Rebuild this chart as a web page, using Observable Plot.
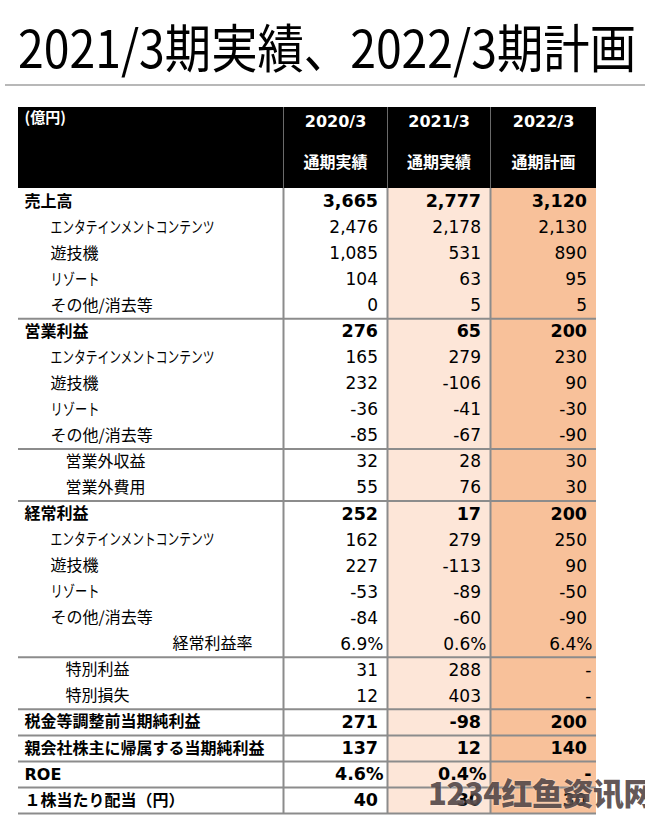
<!DOCTYPE html>
<html>
<head>
<meta charset="utf-8">
<script src="https://cdn.jsdelivr.net/npm/d3@7"></script>
<script src="https://cdn.jsdelivr.net/npm/@observablehq/plot@0.6"></script>
<style>
  html, body { margin: 0; padding: 0; background: #fff; }
  #page { position: relative; width: 645px; height: 817px; overflow: hidden; }
  #title { position: absolute; left: 18px; top: 20px; font-family: "Noto Sans CJK JP", sans-serif;
           font-size: 52px; line-height: 1; color: #000; white-space: nowrap; transform-origin: 0 0; }
  #rule { position: absolute; left: 5px; right: 0; top: 84px; height: 2px; background: #b8b8b8; }
  #chart { position: absolute; left: 0; top: 100px; }
  #wm { position: absolute; left: 428px; top: 776px; font-family: "Noto Sans CJK SC", sans-serif; font-weight: 900;
        font-size: 31px; line-height: 1; color: rgba(72, 58, 58, 0.85); white-space: nowrap; letter-spacing: -0.5px;
        text-shadow: 0 0 2px rgba(255,255,255,0.6); }
</style>
</head>
<body>
<div id="page">
  <div id="title">2021/3期実績、2022/3期計画</div>
  <div id="rule"></div>
  <div id="chart"></div>
  <div id="wm">1234红鱼资讯网</div>
</div>
<script>
// ---------- data ----------
const labels = [
  "売上高", "エンタテインメントコンテンツ", "遊技機", "リゾート", "その他/消去等",
  "営業利益", "エンタテインメントコンテンツ", "遊技機", "リゾート", "その他/消去等",
  "営業外収益", "営業外費用",
  "経常利益", "エンタテインメントコンテンツ", "遊技機", "リゾート", "その他/消去等",
  "経常利益率", "特別利益", "特別損失",
  "税金等調整前当期純利益", "親会社株主に帰属する当期純利益", "ROE", "１株当たり配当（円）"
];
// 0 = bold heading, 1 = indented, 2 = double indented, 3 = right-aligned ratio label
const levels = [0,1,1,1,1, 0,1,1,1,1, 2,2, 0,1,1,1,1, 3,2,2, 0,0,0,0];
const percentRows = [17, 22];
const fy2020 = [3665, 2476, 1085, 104, 0, 276, 165, 232, -36, -85, 32, 55, 252, 162, 227, -53, -84, 6.9, 31, 12, 271, 137, 4.6, 40];
const fy2021 = [2777, 2178, 531, 63, 5, 65, 279, -106, -41, -67, 28, 76, 17, 279, -113, -89, -60, 0.6, 288, 403, -98, 12, 0.4, 30];
const fy2022 = [3120, 2130, 890, 95, 5, 200, 230, 90, -30, -90, 30, 30, 200, 250, 90, -50, -90, 6.4, null, null, 200, 140, null, 30];
const periods = ["2020/3", "2021/3", "2022/3"];
const periodSub = ["通期実績", "通期実績", "通期計画"];
const unitLabel = "(億円)";
// rows after which a separator line is drawn
const separatorsAfter = [4, 9, 11, 17, 19, 20, 21, 22, 23];

// ---------- layout (not data) ----------
const colEdges = [0, 265, 369, 472, 578];
const colFill = ["#ffffff", "#fde6d8", "#f8c19a"];
const headerH = 81;
const nRows = labels.length;
const rowH = 625 / nRows;
const totalH = headerH + nRows * rowH;
const indentX = [6, 32, 47];
const ratioLabelX = 234;
const rowY = i => headerH + (i + 0.5) * rowH;

const series = [fy2020, fy2021, fy2022];
const fmtInt = d3.format(",");
const fmt = (v, i) => {
  if (v == null) return "-";
  if (percentRows.includes(i)) return v.toFixed(1) + "%";
  return (v < 0 ? "-" : "") + fmtInt(Math.abs(v));
};

const rows = labels.map((label, i) => ({i, label, level: levels[i]}));
const cells = [];
series.forEach((vals, j) => vals.forEach((v, i) => {
  const pct = percentRows.includes(i);
  const pad = v == null ? 5 : pct ? 4 : 9.5;
  cells.push({i, j, text: fmt(v, i), x: colEdges[j + 2] - pad, bold: levels[i] === 0});
}));
const cols = periods.map((p, j) => ({j, p, sub: periodSub[j], x1: colEdges[j + 1], x2: colEdges[j + 2], fill: colFill[j]}));

const font = "'DejaVu Sans', 'Noto Sans CJK JP', sans-serif";
const jpFont = "'Noto Sans CJK JP', sans-serif";

const plot = Plot.plot({
  width: 645,
  height: 717,
  marginTop: 7, marginBottom: 4, marginLeft: 18, marginRight: 49,
  x: {domain: [0, colEdges[colEdges.length - 1]], axis: null},
  y: {domain: [0, totalH], reverse: true, axis: null},
  style: {fontFamily: font, background: "white"},
  marks: [
    // column backgrounds
    Plot.rect(cols, {x1: "x1", x2: "x2", y1: headerH, y2: totalH, fill: "fill"}),
    // header band
    Plot.rect([0], {x1: colEdges[0], x2: colEdges[colEdges.length - 1], y1: 0, y2: headerH, fill: "black"}),
    Plot.ruleX(colEdges.slice(1, 4), {y1: 0, y2: headerH, stroke: "#6a6a6a", strokeWidth: 1}),
    // grid
    Plot.ruleX(colEdges.slice(1, 4), {y1: headerH, y2: totalH, stroke: "#8c8c8c", strokeWidth: 2}),
    Plot.ruleY(separatorsAfter, {y: i => headerH + (i + 1) * rowH, x1: colEdges[0], x2: colEdges[colEdges.length - 1], stroke: "#8c8c8c", strokeWidth: 2}),
    // header text
    Plot.text([unitLabel], {x: indentX[0], y: 11, text: d => d, textAnchor: "start", fill: "white", fontWeight: "bold", fontSize: 15, fontFamily: jpFont}),
    Plot.text(cols, {x: d => (d.x1 + d.x2) / 2, y: 14, text: "p", fill: "white", fontWeight: "bold", fontSize: 16}),
    Plot.text(cols, {x: d => (d.x1 + d.x2) / 2, y: 55, text: "sub", fill: "white", fontWeight: "bold", fontSize: 16, fontFamily: jpFont}),
    // row labels
    Plot.text(rows.filter(d => d.level === 0), {
      x: d => indentX[d.level], y: d => rowY(d.i), text: "label", textAnchor: "start",
      fontWeight: "bold", fontSize: 16, fill: "black", fontFamily: d => d.label === "ROE" ? font : jpFont
    }),
    Plot.text(rows.filter(d => d.level === 1 || d.level === 2), {
      x: d => indentX[d.level], y: d => rowY(d.i), text: "label", textAnchor: "start",
      fontSize: 16, fill: "black", fontFamily: jpFont
    }),
    Plot.text(rows.filter(d => d.level === 3), {
      x: ratioLabelX, y: d => rowY(d.i), text: "label", textAnchor: "end", fontSize: 16, fill: "black", fontFamily: jpFont
    }),
    // values
    Plot.text(cells.filter(d => !d.bold), {x: "x", y: d => rowY(d.i), text: "text", textAnchor: "end", fontSize: 17, fill: "black"}),
    Plot.text(cells.filter(d => d.bold), {x: "x", y: d => rowY(d.i), text: "text", textAnchor: "end", fontSize: 17.5, fontWeight: "bold", fill: "black"})
  ]
});
document.getElementById("chart").appendChild(plot);

// fit narrow katakana labels to the reference widths
const squeeze = {"エンタテインメントコンテンツ": 164, "リゾート": 49};
plot.querySelectorAll("text").forEach(t => {
  const w = squeeze[t.textContent];
  if (w) { t.setAttribute("textLength", w); t.setAttribute("lengthAdjust", "spacingAndGlyphs"); }
});

// fit the title width
const title = document.getElementById("title");
const tw = title.getBoundingClientRect().width;
title.style.transform = `scaleX(${618 / tw})`;
</script>
</body>
</html>
